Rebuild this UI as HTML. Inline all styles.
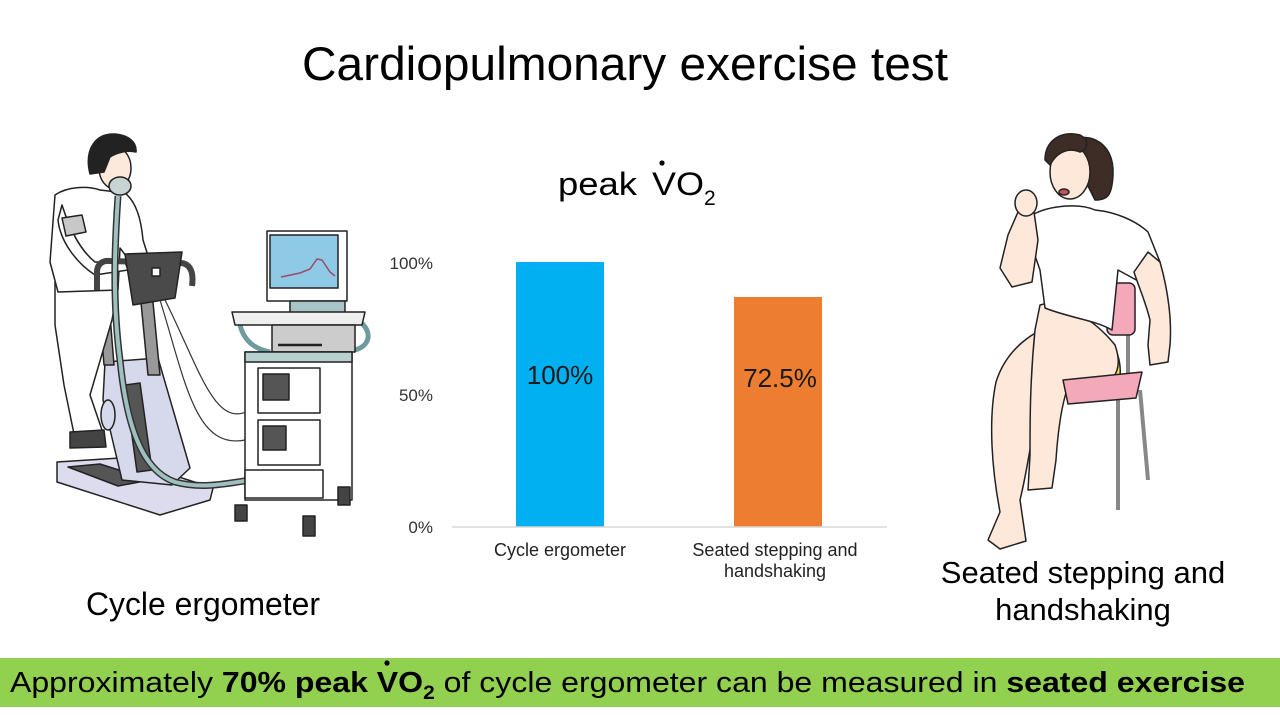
<!DOCTYPE html>
<html><head><meta charset="utf-8"><style>
html,body{margin:0;padding:0;background:#fff;}
svg{display:block;}
text{font-family:"Liberation Sans",Arial,sans-serif;}
</style></head><body>
<svg width="1280" height="719" viewBox="0 0 1280 719" xmlns="http://www.w3.org/2000/svg">
<rect width="1280" height="719" fill="#fff"/>
<!-- Title -->
<text x="302" y="80" font-size="47" fill="#000" textLength="646" lengthAdjust="spacingAndGlyphs">Cardiopulmonary exercise test</text>

<!-- Chart -->
<text x="558" y="195" font-size="32" fill="#000" textLength="79" lengthAdjust="spacingAndGlyphs">peak</text>
<text x="652" y="195" font-size="32" fill="#000" textLength="52" lengthAdjust="spacingAndGlyphs">VO</text>
<circle cx="662" cy="163" r="2.6" fill="#000"/>
<text x="704" y="205" font-size="21" fill="#000">2</text>

<text x="433" y="269" font-size="17" fill="#333" text-anchor="end">100%</text>
<text x="433" y="401" font-size="17" fill="#333" text-anchor="end">50%</text>
<text x="433" y="533" font-size="17" fill="#333" text-anchor="end">0%</text>
<rect x="516" y="262" width="88" height="265" fill="#00b0f0"/>
<rect x="734" y="297" width="88" height="230" fill="#ed7d31"/>
<line x1="452" y1="527" x2="887" y2="527" stroke="#d9d9d9" stroke-width="1.5"/>
<text x="560" y="384" font-size="26" fill="#1a1a1a" text-anchor="middle">100%</text>
<text x="780" y="387" font-size="26" fill="#1a1a1a" text-anchor="middle">72.5%</text>
<text x="560" y="556" font-size="18" fill="#222" text-anchor="middle">Cycle ergometer</text>
<text x="775" y="556" font-size="18" fill="#222" text-anchor="middle">Seated stepping and</text>
<text x="775" y="577" font-size="18" fill="#222" text-anchor="middle">handshaking</text>

<!-- Side labels -->
<text x="86" y="615" font-size="32" fill="#000" textLength="234" lengthAdjust="spacingAndGlyphs">Cycle ergometer</text>
<text x="1083" y="583" font-size="31" fill="#000" text-anchor="middle">Seated stepping and</text>
<text x="1083" y="620" font-size="31" fill="#000" text-anchor="middle">handshaking</text>

<!-- Banner -->
<rect x="0" y="658" width="1280" height="49" fill="#92d050"/>
<text x="10" y="692" font-size="29" fill="#000" textLength="1235" lengthAdjust="spacingAndGlyphs">Approximately <tspan font-weight="bold">70% peak VO</tspan><tspan font-weight="bold" font-size="19" dy="7">2</tspan><tspan dy="-7"> of cycle ergometer can be measured in </tspan><tspan font-weight="bold">seated exercise</tspan></text>
<circle cx="387" cy="663" r="2.6" fill="#000"/>

<!-- Left illustration: man on cycle ergometer -->
<g stroke="#222" stroke-width="1.5" stroke-linejoin="round">
  <polygon points="57,462 120,458 213,488 210,500 160,515 57,482" fill="#dcdcee"/>
  <polygon points="68,467 100,464 150,480 118,486" fill="#555"/>
  <polygon points="105,362 158,358 190,468 172,485 122,480 103,400" fill="#d6d8ec"/>
  <polygon points="125,385 140,383 152,470 137,472" fill="#555"/>
  <ellipse cx="108" cy="415" rx="7" ry="15" fill="#d6d8ec"/>
  <polygon points="140,292 152,292 160,375 148,375" fill="#999"/>
  <polygon points="100,315 110,315 114,365 104,365" fill="#999"/>
  <ellipse cx="104" cy="310" rx="9" ry="6" fill="#444"/>
  <path d="M55,282 L118,285 L112,320 L90,395 L102,430 L74,434 L64,385 L55,325 Z" fill="#fff"/>
  <polygon points="70,432 104,430 106,447 70,448" fill="#444"/>
  <path d="M55,195 C68,186 88,186 100,190 L125,193 C136,202 141,218 143,240 L150,262 L138,272 L120,248 L118,290 L58,292 L50,262 Z" fill="#fff"/>
  <path d="M62,205 C70,230 80,250 95,262 L125,262 L128,270 L95,275 C75,262 60,240 58,220 Z" fill="#fff"/>
  <polygon points="62,218 82,215 86,232 66,236" fill="#c8c8c8"/>
  <ellipse cx="115" cy="168" rx="16" ry="21" fill="#fde9dc"/>
  <path d="M90,174 C84,150 95,133 115,134 C128,135 137,142 136,152 C128,150 118,152 110,157 L104,172 Z" fill="#222"/>
  <ellipse cx="120" cy="186" rx="11" ry="9" fill="#c8d4d4"/>
  <path d="M97,290 L97,272 C97,264 103,260 110,261 L180,263 C190,263 194,272 192,286" fill="none" stroke="#444" stroke-width="6"/>
  <polygon points="125,254 182,252 175,298 133,305" fill="#4a4a4a"/>
  <rect x="152" y="268" width="8" height="8" fill="#fff"/>
</g>
<path d="M118,196 C115,240 112,300 120,360 C126,420 140,470 175,482 C205,490 232,482 252,480" fill="none" stroke="#333" stroke-width="7"/>
<path d="M118,196 C115,240 112,300 120,360 C126,420 140,470 175,482 C205,490 232,482 252,480" fill="none" stroke="#9fc0c0" stroke-width="4"/>
<path d="M160,300 C185,380 195,450 245,440 M165,300 C200,370 215,430 250,410" fill="none" stroke="#333" stroke-width="1.2"/>
<g stroke="#222" stroke-width="1.5" stroke-linejoin="round">
  <rect x="267" y="231" width="80" height="70" fill="#fff"/>
  <rect x="270" y="235" width="68" height="53" fill="#8ecae6"/>
  <rect x="290" y="301" width="55" height="14" fill="#a8c4c8"/>
  <path d="M240,325 C245,345 260,350 270,352 M358,320 C372,330 372,345 355,350" fill="none" stroke="#6f9a9e" stroke-width="5"/>
  <polygon points="232,312 365,312 362,325 235,325" fill="#eee"/>
  <polygon points="272,325 355,325 355,352 272,352" fill="#ccc"/>
  <line x1="278" y1="345" x2="322" y2="345" stroke-width="2.5"/>
  <rect x="245" y="352" width="107" height="148" fill="#fff"/>
  <rect x="245" y="352" width="107" height="10" fill="#b8d0d0"/>
  <rect x="258" y="368" width="62" height="45" fill="#fff"/>
  <rect x="263" y="374" width="26" height="26" fill="#555"/>
  <rect x="258" y="420" width="62" height="45" fill="#fff"/>
  <rect x="263" y="426" width="23" height="24" fill="#555"/>
  <rect x="245" y="470" width="78" height="28" fill="#fff"/>
  <rect x="235" y="505" width="12" height="16" fill="#444"/>
  <rect x="303" y="516" width="12" height="20" fill="#444"/>
  <rect x="338" y="487" width="12" height="18" fill="#444"/>
</g>
<path d="M281,277 L300,273 L310,269 L317,259 L322,260 L330,272 L335,276" fill="none" stroke="#a04868" stroke-width="1.5"/>

<!-- Right illustration: seated woman -->
<g stroke="#222" stroke-width="1.5" stroke-linejoin="round">
  <line x1="1118" y1="400" x2="1118" y2="510" stroke="#888" stroke-width="4"/>
  <line x1="1140" y1="390" x2="1148" y2="480" stroke="#888" stroke-width="4"/>
  <line x1="1128" y1="330" x2="1128" y2="380" stroke="#888" stroke-width="4"/>
  <rect x="1107" y="283" width="28" height="52" rx="6" fill="#f3a9b9"/>
  <path d="M1062,322 C1032,330 1006,350 996,382 C988,420 992,470 1000,512 L988,540 L1000,549 L1026,541 L1020,500 C1030,460 1032,420 1046,392 Z" fill="#fde8da"/>
  <path d="M1098,335 C1112,338 1122,355 1120,378 L1100,378 Z" fill="#f0e040"/>
  <path d="M1040,305 C1060,298 1095,320 1115,345 C1122,365 1118,380 1100,384 L1070,382 C1062,400 1058,430 1056,460 L1052,488 L1028,490 L1030,455 C1030,420 1030,380 1035,330 Z" fill="#fde8da"/>
  <polygon points="1063,380 1142,372 1136,398 1068,404" fill="#f3a9b9"/>
  <path d="M1032,215 C1050,205 1080,203 1095,210 C1115,212 1135,220 1148,232 L1160,262 L1140,282 L1118,270 L1112,330 C1095,320 1070,318 1045,308 L1040,270 L1033,250 Z" fill="#fff"/>
  <path d="M1018,212 L1034,212 L1038,240 L1032,282 L1012,287 L1000,268 L1008,235 Z" fill="#fde8da"/>
  <ellipse cx="1026" cy="203" rx="11" ry="13" fill="#fde8da"/>
  <path d="M1148,252 L1160,262 C1168,290 1172,320 1170,345 L1168,362 L1150,365 L1148,345 L1150,320 C1145,300 1138,285 1134,272 Z" fill="#fde8da"/>
  <path d="M1060,145 C1085,128 1115,140 1113,175 C1112,195 1108,200 1095,200 L1080,170 Z" fill="#3e2c26"/>
  <ellipse cx="1070" cy="172" rx="20" ry="27" fill="#fde8da"/>
  <path d="M1045,160 C1045,140 1062,130 1080,135 C1090,140 1088,150 1080,152 C1070,148 1058,150 1050,165 Z" fill="#3e2c26"/>
  <ellipse cx="1064" cy="192" rx="5" ry="3" fill="#c8505a"/>
</g>
</svg>
</body></html>
